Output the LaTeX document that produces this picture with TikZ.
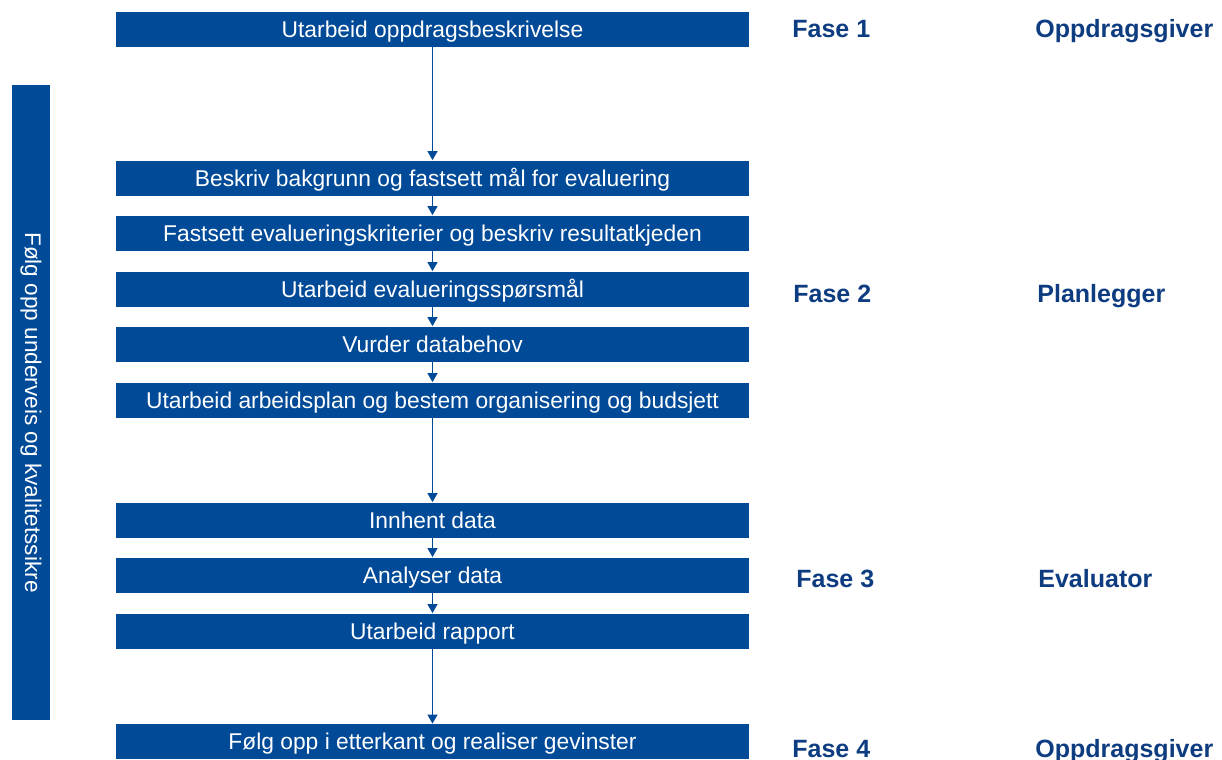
\documentclass[tikz,border=0pt]{standalone}
\usepackage{fontspec}
\setmainfont{Liberation Sans}
\usetikzlibrary{arrows.meta}
\definecolor{boxblue}{RGB}{0,74,152}
\definecolor{labelblue}{RGB}{14,60,128}
\begin{document}
\begin{tikzpicture}[x=0.5pt,y=-0.5pt,
  stepbox/.style={fill=boxblue, text=white, minimum width=316.5pt, minimum height=17.5pt,
    inner sep=0pt, font=\fontsize{11.4pt}{13pt}\selectfont, text height=8.1pt, text depth=0pt},
  sidebar/.style={fill=boxblue, minimum width=18.7pt, minimum height=317.5pt, inner sep=0pt},
  sidetext/.style={text=white, rotate=-90, font=\fontsize{11.3pt}{13pt}\selectfont, inner sep=0pt},
  phase/.style={text=labelblue, anchor=base west, inner sep=0pt, font=\fontsize{12.5pt}{14pt}\selectfont\bfseries},
  arr/.style={draw=boxblue, line width=0.6pt, -{Triangle[width=5pt,length=4.5pt]}}]
\useasboundingbox (0,0) rectangle (1222,760);
\node[stepbox] (b1) at (432.5,29) {Utarbeid oppdragsbeskrivelse};
\node[stepbox] (b2) at (432.5,178) {Beskriv bakgrunn og fastsett mål for evaluering};
\node[stepbox] (b3) at (432.5,233) {Fastsett evalueringskriterier og beskriv resultatkjeden};
\node[stepbox] (b4) at (432.5,289) {Utarbeid evalueringsspørsmål};
\node[stepbox] (b5) at (432.5,344) {Vurder databehov};
\node[stepbox] (b6) at (432.5,400) {Utarbeid arbeidsplan og bestem organisering og budsjett};
\node[stepbox] (b7) at (432.5,520) {Innhent data};
\node[stepbox] (b8) at (432.5,575) {Analyser data};
\node[stepbox] (b9) at (432.5,631) {Utarbeid rapport};
\node[stepbox] (b10) at (432.5,741.5) {Følg opp i etterkant og realiser gevinster};
\node[sidebar] (bar) at (31,402.5) {};
\node[sidetext] (bartext) at (31,412.5) {Følg opp underveis og kvalitetssikre};
\draw[arr] (b1.south) -- (b2.north);
\draw[arr] (b2.south) -- (b3.north);
\draw[arr] (b3.south) -- (b4.north);
\draw[arr] (b4.south) -- (b5.north);
\draw[arr] (b5.south) -- (b6.north);
\draw[arr] (b6.south) -- (b7.north);
\draw[arr] (b7.south) -- (b8.north);
\draw[arr] (b8.south) -- (b9.north);
\draw[arr] (b9.south) -- (b10.north);
\node[phase] (f1) at (792,37) {Fase 1};
\node[phase] (r1) at (1035,37) {Oppdragsgiver};
\node[phase] (f2) at (793,302) {Fase 2};
\node[phase] (r2) at (1037,302) {Planlegger};
\node[phase] (f3) at (796,587) {Fase 3};
\node[phase] (r3) at (1038,587) {Evaluator};
\node[phase] (f4) at (792,757) {Fase 4};
\node[phase] (r4) at (1035,757) {Oppdragsgiver};
\end{tikzpicture}
\end{document}
